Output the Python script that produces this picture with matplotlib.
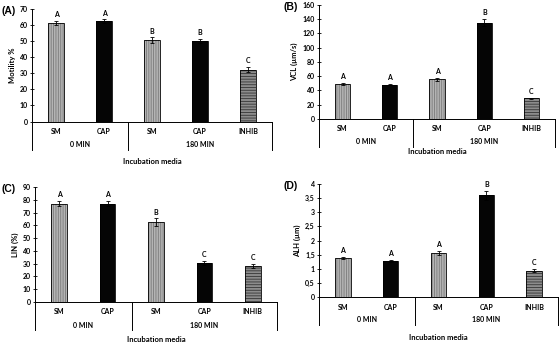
import matplotlib
matplotlib.use("Agg")
import matplotlib.pyplot as plt
from matplotlib.ticker import FuncFormatter, MultipleLocator

plt.rcParams['font.family'] = ['Lato', 'DejaVu Sans']
plt.rcParams['hatch.linewidth'] = 0.6

# data
categories = ['SM', 'CAP', 'SM', 'CAP', 'INHIB']
groups = ['0 MIN', '180 MIN']

motility = [61, 62, 50.5, 50, 32]
motility_err = [1.5, 1.2, 1.6, 1.2, 1.6]
motility_letters = ['A', 'A', 'B', 'B', 'C']

vcl = [49, 48, 56, 135, 29]
vcl_err = [1.2, 0.8, 2.0, 5.0, 1.0]
vcl_letters = ['A', 'A', 'A', 'B', 'C']

lin = [77, 77, 62.5, 30.5, 28]
lin_err = [2.2, 2.0, 3.0, 1.5, 1.6]
lin_letters = ['A', 'A', 'B', 'C', 'C']

alh = [1.38, 1.28, 1.55, 3.6, 0.93]
alh_err = [0.03, 0.03, 0.07, 0.15, 0.06]
alh_letters = ['A', 'A', 'A', 'B', 'C']

W, H = 560, 344
fig = plt.figure(figsize=(W / 100, H / 100), dpi=100)

styles = [
    dict(fc='#b4b4b4', hatch='|||||||', hc='#7a7a7a'),
    dict(fc='#050505', hatch='', hc='#050505'),
    dict(fc='#b4b4b4', hatch='|||||||', hc='#7a7a7a'),
    dict(fc='#050505', hatch='', hc='#050505'),
    dict(fc='#8c8c8c', hatch='------', hc='#353535'),
]


def panel(box, vals, errs, letters, ymax, ystep, ylabel, tag, tag_x, media_off, comma=False):
    l, t, r, b = box
    ax = fig.add_axes([l / W, 1 - b / H, (r - l) / W, (b - t) / H])
    x = range(len(vals))
    for i in x:
        s = styles[i]
        ax.bar(i, vals[i], 0.32, color=s['fc'], edgecolor=s['hc'], hatch=s['hatch'], lw=0)
        ax.bar(i, vals[i], 0.32, fill=False, edgecolor='black', lw=0.6)
    ax.errorbar(list(x), vals, yerr=errs, fmt='none', ecolor='black',
                elinewidth=0.6, capsize=1.5, capthick=0.6)
    for i in x:
        ax.annotate(letters[i], (i, vals[i] + errs[i]), xytext=(0, 2),
                    textcoords='offset points', ha='center', va='bottom',
                    fontsize=5, fontweight='bold')
    ax.set_xlim(-0.5, 4.5)
    ax.set_ylim(0, ymax)
    ax.yaxis.set_major_locator(MultipleLocator(ystep))
    if comma:
        ax.yaxis.set_major_formatter(FuncFormatter(lambda v, p: ('%g' % v).replace('.', ',')))
    ax.spines['top'].set_visible(False)
    ax.spines['right'].set_visible(False)
    ax.spines['left'].set_visible(False)
    ax.spines['bottom'].set_linewidth(0.7)
    ax.set_xticks([])
    ax.tick_params(axis='y', direction='inout', length=3, width=0.6,
                   labelsize=5, pad=1.5)
    for lab in ax.get_yticklabels():
        lab.set_fontweight('bold')
    ax.set_ylabel(ylabel, fontsize=5.5, fontweight='bold', labelpad=3)

    tr = ax.get_xaxis_transform()
    # left spine running down through the category area
    ax.plot([-0.5, -0.5], [1, 0], transform=tr, color='black', lw=0.7, clip_on=False)
    for xs in [-0.5, 1.5, 4.5]:
        ax.plot([xs, xs], [0, -28 / (b - t)], transform=tr, color='black',
                lw=0.7, clip_on=False)
    for i, c in enumerate(categories):
        ax.annotate(c, (i, 0), xycoords=tr, xytext=(0, -10),
                    textcoords='offset pixels', ha='center', va='center',
                    fontsize=5, fontweight='bold')
    ax.annotate(groups[0], (0.5, 0), xycoords=tr, xytext=(0, -23),
                textcoords='offset pixels', ha='center', va='center',
                fontsize=5, fontweight='bold')
    ax.annotate(groups[1], (3, 0), xycoords=tr, xytext=(0, -23),
                textcoords='offset pixels', ha='center', va='center',
                fontsize=5, fontweight='bold')
    ax.annotate('Incubation media', (2, 0), xycoords=tr, xytext=(0, -media_off),
                textcoords='offset pixels', ha='center', va='center',
                fontsize=5.5, fontweight='bold')
    fig.text(tag_x / W, 1 - (t + 2) / H, tag, fontsize=7.5, fontweight='bold',
             family='Liberation Sans', ha='left', va='center')
    return ax


panel((32, 8.5, 272, 121.5), motility, motility_err, motility_letters,
      70, 10, 'Motility %', '(A)', 1, 40)
panel((319, 5, 555, 119), vcl, vcl_err, vcl_letters,
      160, 20, 'VCL (µm/s)', '(B)', 283, 33)
panel((35, 187, 277, 302), lin, lin_err, lin_letters,
      90, 10, 'LIN (%)', '(C)', 1, 38)
panel((319, 184, 558, 297), alh, alh_err, alh_letters,
      4, 0.5, 'ALH (µm)', '(D)', 283, 40, comma=True)

fig.savefig('out.png', dpi=100)
